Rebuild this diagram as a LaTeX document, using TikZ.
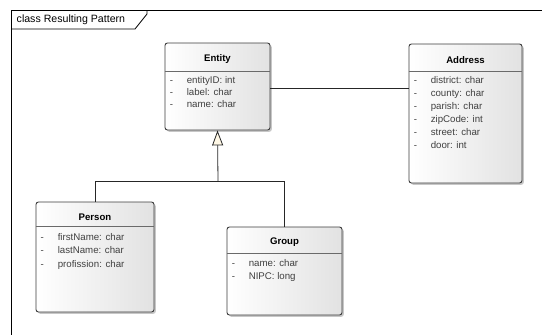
\documentclass[tikz,border=0pt]{standalone}
\usepackage{fontspec}
\setmainfont{Liberation Sans}
\usetikzlibrary{arrows.meta,shadows}

\definecolor{boxline}{HTML}{3C3C3C}
\definecolor{sepline}{HTML}{6A6A6A}
\definecolor{attrtext}{HTML}{404040}
\definecolor{boxend}{HTML}{E2E2E2}
\definecolor{cream}{HTML}{FFF8E6}

\tikzset{
  classbox/.style={draw=boxline, line width=0.9pt, rounded corners=2.5pt,
    left color=white, right color=boxend,
    drop shadow={shadow xshift=1.8pt, shadow yshift=-1.8pt, fill=black, opacity=0.22},
    inner sep=0pt},
  classtitle/.style={font=\fontsize{9.6}{10}\selectfont\bfseries, text=black, inner sep=0pt},
  attr/.style={font=\fontsize{9.7}{10}\selectfont, text=attrtext, anchor=west, inner sep=0pt,
    text height=7pt, text depth=2pt},
  sep/.style={draw=sepline, line width=0.7pt},
  link/.style={draw=black!85, line width=0.8pt},
  framelabel/.style={font=\fontsize{10.6}{12}\selectfont, anchor=west, inner sep=0pt}
}

% title, separator and attribute rows of one class box
% #1 box name, #2 title offset, #3 separator offset, #4 first row offset, #5 row step, #6 title, #7 rows
\newcommand{\classparts}[7]{%
  \node[classtitle] (#1-title) at ([yshift=-#2pt]#1.north) {#6};
  \draw[sep] ([yshift=-#3pt]#1.north west) -- ([yshift=-#3pt]#1.north east);
  \foreach \t [count=\i] in {#7} {
    \node[attr] at ([xshift=5pt, yshift={-(#4+#5*(\i-1))*1pt}]#1.north west) {-};
    \node[attr] at ([xshift=22pt, yshift={-(#4+#5*(\i-1))*1pt}]#1.north west) {\t};
  }%
}

\begin{document}
\begin{tikzpicture}[x=1pt, y=-1pt]
  \useasboundingbox (0,0) rectangle (542,335);

  % diagram frame with its name tab
  \draw[line width=0.8pt] (11,340) -- (11,10) -- (545,10);
  \draw[line width=0.8pt] (11,29) -- (135,29) -- (147,14) -- (147,10);
  \node[framelabel] (framename) at (16.5,20) {class Resulting Pattern};

  % classes
  \node[classbox, minimum width=105pt, minimum height=87pt] (entity) at (217.5,86.5) {};
  \node[classbox, minimum width=113pt, minimum height=139pt] (address) at (465.5,113.5) {};
  \node[classbox, minimum width=118pt, minimum height=110pt] (person) at (95,257) {};
  \node[classbox, minimum width=115pt, minimum height=88pt] (group) at (284.5,271) {};

  \classparts{entity}{16}{29}{38.5}{12}{Entity}{entityID: int, label: char, name: char}
  \classparts{address}{16.5}{28}{37.5}{13}{Address}{district: char, county: char, parish: char, zipCode: int, street: char, door: int}
  \classparts{person}{15.5}{25}{36}{13.5}{Person}{firstName: char, lastName: char, profission: char}
  \classparts{group}{16}{26.5}{37}{13.5}{Group}{name: char, NIPC: long}

  % association
  \draw[link] ([yshift=-1.5pt]entity.east) -- ([yshift=-1.5pt]entity.east -| address.west);

  % generalization
  \coordinate (junction) at (218,181.5);
  \draw[link] (person.north) |- (junction) -| (group.north);
  \draw[link, -{Triangle[length=15pt, width=11pt, fill=cream]}] (junction) -- (entity.south);
\end{tikzpicture}
\end{document}
